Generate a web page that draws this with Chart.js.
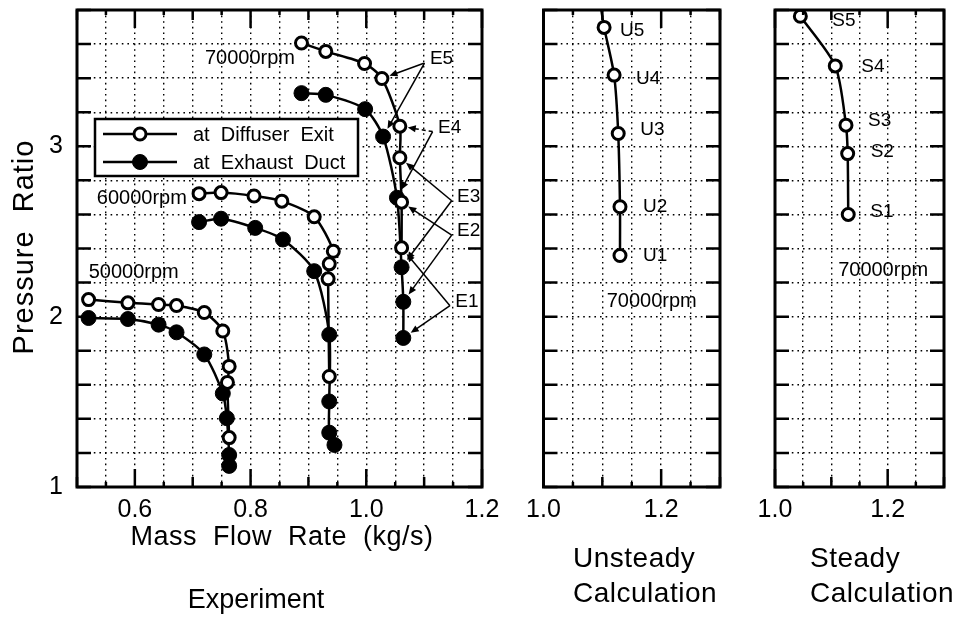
<!DOCTYPE html>
<html>
<head>
<meta charset="utf-8">
<script src="https://cdn.jsdelivr.net/npm/chart.js@4.4.0/dist/chart.umd.min.js"></script>
<style>
html, body { margin: 0; padding: 0; background: #fff; }
#wrap { position: relative; width: 953px; height: 619px; overflow: hidden; }
canvas { position: absolute; left: 0; top: 0; }
</style>
</head>
<body>
<div id="wrap">
<canvas id="expChart" width="953" height="619"></canvas>
<canvas id="unsChart" width="953" height="619"></canvas>
<canvas id="stdChart" width="953" height="619"></canvas>
</div>
<script>
// --- data: [mass flow rate (kg/s), pressure ratio] ---
const exit50 = [[0.520, 2.100], [0.588, 2.081], [0.641, 2.071], [0.672, 2.065], [0.720, 2.024], [0.752, 1.916], [0.763, 1.708], [0.760, 1.614], [0.763, 1.290]];
const duct50 = [[0.520, 1.992], [0.588, 1.986], [0.641, 1.953], [0.672, 1.908], [0.720, 1.778], [0.752, 1.549], [0.759, 1.404], [0.763, 1.188], [0.763, 1.124]];
const exit60 = [[0.711, 2.722], [0.749, 2.728], [0.806, 2.708], [0.854, 2.678], [0.910, 2.586], [0.943, 2.384], [0.936, 2.310], [0.934, 2.222], [0.936, 1.649]];
const duct60 = [[0.711, 2.555], [0.749, 2.575], [0.808, 2.521], [0.856, 2.453], [0.910, 2.267], [0.936, 1.894], [0.936, 1.502], [0.936, 1.319], [0.945, 1.247]];
const exit70 = [[0.888, 3.606], [0.930, 3.557], [0.997, 3.486], [1.027, 3.398], [1.058, 3.118], [1.058, 2.933], [1.061, 2.672], [1.061, 2.404]];
const duct70 = [[0.888, 3.312], [0.930, 3.302], [0.998, 3.218], [1.029, 3.057], [1.053, 2.698], [1.061, 2.290], [1.064, 2.087], [1.064, 1.875]];

// unsteady calculation U1..U5, last entry is where the curve meets the top frame
const unsteadyX = [1.130, 1.130, 1.127, 1.120, 1.103, 1.098];
const unsteadyY = [2.359, 2.645, 3.075, 3.418, 3.698, 3.806];
const unsteadyNames = ['U1', 'U2', 'U3', 'U4', 'U5'];

// steady calculation S1..S5
const steadyX = [1.130, 1.129, 1.126, 1.107, 1.045];
const steadyY = [2.600, 2.957, 3.124, 3.472, 3.763];
const steadyNames = ['S1', 'S2', 'S3', 'S4', 'S5'];

const legendNames = ['at  Diffuser  Exit', 'at  Exhaust  Duct'];
const eNames = ['E5', 'E4', 'E3', 'E2', 'E1'];
const ePoint = [3, 4, 5, 6, 7]; // index in exit70 / duct70

const W = 953, H = 619;
const FONT = '"Liberation Sans", Arial, Helvetica, sans-serif';

function series(pts, filled, extra) {
  return Object.assign({
    data: pts.map(p => ({ x: p[0], y: p[1] })),
    borderColor: '#000',
    borderWidth: 2.5,
    tension: 0.25,
    fill: false,
    pointRadius: filled ? 7.5 : 6,
    pointBorderWidth: filled ? 1 : 3,
    pointBackgroundColor: filled ? '#000' : '#fff',
    pointBorderColor: '#000'
  }, extra || {});
}

// frame and inward tick marks
const framePlugin = {
  id: 'frame',
  afterDraw(chart) {
    const ctx = chart.ctx, a = chart.chartArea;
    const xs = chart.scales.x, ys = chart.scales.y;
    ctx.save();
    ctx.strokeStyle = '#000';
    ctx.lineWidth = 2.5;
    ys.ticks.forEach(t => {
      const py = ys.getPixelForValue(t.value);
      ctx.beginPath();
      ctx.moveTo(a.left, py); ctx.lineTo(a.left + 14, py);
      ctx.moveTo(a.right, py); ctx.lineTo(a.right - 14, py);
      ctx.stroke();
    });
    xs.ticks.forEach(t => {
      const px = xs.getPixelForValue(t.value);
      const k = Math.round(t.value * 100);
      const len = k % 20 === 0 ? 18 : (k % 10 === 0 ? 10 : 5);
      ctx.beginPath();
      ctx.moveTo(px, a.bottom); ctx.lineTo(px, a.bottom - len);
      ctx.moveTo(px, a.top); ctx.lineTo(px, a.top + len);
      ctx.stroke();
    });
    ctx.lineWidth = 3;
    ctx.strokeRect(a.left, a.top, a.right - a.left, a.bottom - a.top);
    ctx.restore();
  }
};

function setFont(ctx, size, spacing) {
  ctx.font = size + 'px ' + FONT;
  if ('letterSpacing' in ctx) ctx.letterSpacing = (spacing || 0) + 'px';
}

// labels, arrows, legend and titles
const notesPlugin = {
  id: 'notes',
  afterDatasetsDraw(chart, args, o) {
    const ctx = chart.ctx, xs = chart.scales.x, ys = chart.scales.y;
    const pix = p => [xs.getPixelForValue(p[0]), ys.getPixelForValue(p[1])];
    ctx.save();
    ctx.fillStyle = '#000';
    ctx.strokeStyle = '#000';
    (o.arrows || []).forEach(ar => {
      const s = pix(ar.from), t = pix(ar.to);
      const x0 = s[0] + ar.dx, y0 = s[1] + ar.dy;
      const vx = x0 - t[0], vy = y0 - t[1], d = Math.hypot(vx, vy);
      const ux = vx / d, uy = vy / d;
      const hx = t[0] + ux * ar.gap, hy = t[1] + uy * ar.gap;
      ctx.lineWidth = 1.5;
      ctx.setLineDash(ar.dashed ? [4, 3] : []);
      ctx.beginPath();
      ctx.moveTo(x0, y0);
      ctx.lineTo(hx + ux * 6, hy + uy * 6);
      ctx.stroke();
      ctx.setLineDash([]);
      ctx.beginPath();
      ctx.moveTo(hx, hy);
      ctx.lineTo(hx + ux * 8 - uy * 3.5, hy + uy * 8 + ux * 3.5);
      ctx.lineTo(hx + ux * 8 + uy * 3.5, hy + uy * 8 - ux * 3.5);
      ctx.closePath();
      ctx.fill();
    });
    (o.texts || []).forEach(tx => {
      const p = pix(tx.at);
      setFont(ctx, tx.size, 0);
      ctx.textAlign = tx.align || 'center';
      ctx.textBaseline = 'middle';
      ctx.fillText(tx.t, p[0] + (tx.dx || 0), p[1] + (tx.dy || 0));
    });
    if (o.legend) {
      const L = o.legend;
      ctx.fillStyle = '#fff';
      ctx.fillRect(L.x, L.y, L.w, L.h);
      ctx.lineWidth = 2.5;
      ctx.strokeRect(L.x, L.y, L.w, L.h);
      L.names.forEach((name, i) => {
        const yy = L.y + L.row0 + i * L.rowGap;
        ctx.lineWidth = 2.5;
        ctx.beginPath();
        ctx.moveTo(L.x + 8, yy); ctx.lineTo(L.x + 82, yy);
        ctx.stroke();
        ctx.beginPath();
        ctx.arc(L.x + 45, yy, i === 0 ? 6 : 7.5, 0, Math.PI * 2);
        ctx.fillStyle = i === 0 ? '#fff' : '#000';
        ctx.fill();
        ctx.lineWidth = i === 0 ? 3 : 1;
        ctx.stroke();
        ctx.fillStyle = '#000';
        setFont(ctx, 20, 0);
        ctx.textAlign = 'left';
        ctx.textBaseline = 'middle';
        ctx.fillText(name, L.x + 98, yy + 1);
      });
    }
    ctx.restore();
  },
  afterDraw(chart, args, o) {
    const ctx = chart.ctx;
    ctx.save();
    ctx.fillStyle = '#000';
    (o.titles || []).forEach(tt => {
      setFont(ctx, tt.size, tt.spacing);
      ctx.textAlign = tt.align || 'center';
      ctx.textBaseline = 'alphabetic';
      ctx.save();
      ctx.translate(tt.x, tt.y);
      if (tt.rotate) ctx.rotate(-Math.PI / 2);
      ctx.fillText(tt.t, 0, 0);
      ctx.restore();
    });
    ctx.restore();
  }
};

function makeChart(id, datasets, xr, area, showY, notes) {
  return new Chart(document.getElementById(id), {
    type: 'line',
    data: { datasets },
    plugins: [framePlugin, notesPlugin],
    options: {
      responsive: false,
      animation: false,
      devicePixelRatio: 1,
      layout: { padding: { left: showY ? 0 : area.left, right: W - area.right, top: area.top, bottom: 0 } },
      scales: {
        x: {
          type: 'linear', min: xr[0], max: xr[1],
          afterFit: s => { s.height = H - area.bottom; s.paddingLeft = 0; s.paddingRight = 0; },
          grid: { color: '#000', lineWidth: 1.4, drawTicks: false },
          border: { display: false, dash: [1.6, 4] },
          ticks: {
            stepSize: 0.05, autoSkip: false, maxRotation: 0, minRotation: 0, padding: 8,
            color: '#000', font: { family: FONT, size: 25 },
            callback: v => Math.round(v * 100) % 20 === 0 ? v.toFixed(1) : ''
          }
        },
        y: {
          type: 'linear', min: 1, max: 3.8,
          afterFit: s => { s.width = showY ? area.left : 0; s.paddingTop = 0; s.paddingBottom = 0; },
          grid: { color: '#000', lineWidth: 1.4, drawTicks: false },
          border: { display: false, dash: [1.6, 4] },
          ticks: {
            display: showY, stepSize: 0.2, autoSkip: false, padding: 14,
            color: '#000', font: { family: FONT, size: 25 },
            callback: v => Math.abs(v - Math.round(v)) < 1e-6 ? String(Math.round(v)) : ''
          }
        }
      },
      plugins: {
        legend: { display: false },
        tooltip: { enabled: false },
        notes: notes
      }
    }
  });
}

// --- Experiment ---
const eAt = [[1.130, 3.512], [1.144, 3.110], [1.177, 2.704], [1.177, 2.502], [1.174, 2.088]];
const eArrows = [];
eNames.forEach((n, i) => {
  eArrows.push({ from: eAt[i], dx: -17, dy: 4, to: exit70[ePoint[i]], gap: 8, dashed: n === 'E4' });
  eArrows.push({ from: eAt[i], dx: -17, dy: 4, to: duct70[ePoint[i]], gap: 9 });
});
const eTexts = eNames.map((n, i) => ({ t: n, size: 19, at: eAt[i] }));

makeChart('expChart', [
  series(exit50, false), series(duct50, true),
  series(exit60, false), series(duct60, true),
  series(exit70, false), series(duct70, true)
], [0.5, 1.2], { left: 77, right: 482, top: 10, bottom: 487 }, true, {
  arrows: eArrows,
  texts: eTexts.concat([
    { t: '70000rpm', size: 20, at: [0.799, 3.518] },
    { t: '60000rpm', size: 20, at: [0.612, 2.694] },
    { t: '50000rpm', size: 20, at: [0.598, 2.257] }
  ]),
  legend: { x: 95, y: 119, w: 263, h: 57, row0: 15, rowGap: 28, names: legendNames },
  titles: [
    { t: 'Pressure  Ratio', size: 29, spacing: 1, x: 33, y: 247, rotate: true },
    { t: 'Mass  Flow  Rate  (kg/s)', size: 27, spacing: 0.5, x: 282, y: 545 },
    { t: 'Experiment', size: 27, x: 256, y: 608 }
  ]
});

// --- Unsteady calculation ---
const unsPts = unsteadyX.map((x, i) => [x, unsteadyY[i]]);
const unsOff = [[23, 0], [23, 0], [22, -4], [22, 4], [16, 3]];
makeChart('unsChart', [
  series(unsPts, false, { pointRadius: unsPts.map((p, i) => i < unsteadyNames.length ? 6 : 0) })
], [1.0, 1.3], { left: 543.5, right: 720, top: 10, bottom: 487 }, false, {
  texts: unsteadyNames.map((n, i) => ({ t: n, size: 19, align: 'left', at: unsPts[i], dx: unsOff[i][0], dy: unsOff[i][1] }))
    .concat([{ t: '70000rpm', size: 20, at: [1.184, 2.090] }]),
  titles: [
    { t: 'Unsteady', size: 28, spacing: 0.5, x: 573, y: 567, align: 'left' },
    { t: 'Calculation', size: 28, spacing: 0.5, x: 573, y: 602, align: 'left' }
  ]
});

// --- Steady calculation ---
const stdPts = steadyX.map((x, i) => [x, steadyY[i]]);
const stdOff = [[22, -3], [23, -2], [22, -4], [26, 1], [32, 4]];
makeChart('stdChart', [
  series(stdPts, false)
], [1.0, 1.3], { left: 775, right: 950, top: 10, bottom: 487 }, false, {
  texts: steadyNames.map((n, i) => ({ t: n, size: 19, align: 'left', at: stdPts[i], dx: stdOff[i][0], dy: stdOff[i][1] }))
    .concat([{ t: '70000rpm', size: 20, at: [1.192, 2.272] }]),
  titles: [
    { t: 'Steady', size: 28, spacing: 0.5, x: 810, y: 567, align: 'left' },
    { t: 'Calculation', size: 28, spacing: 0.5, x: 810, y: 602, align: 'left' }
  ]
});
</script>
</body>
</html>
